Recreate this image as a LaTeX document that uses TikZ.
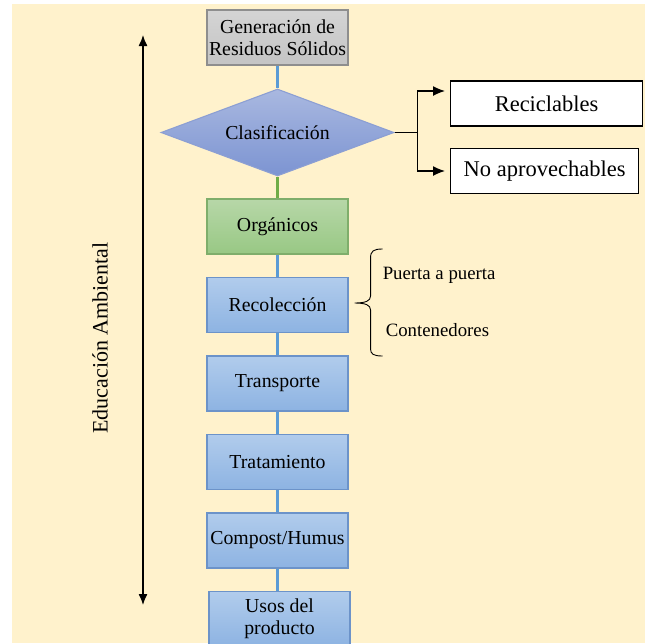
\documentclass[tikz,border=0pt]{standalone}
\usepackage{fontspec}
\setmainfont{Liberation Serif}
\usetikzlibrary{shapes,arrows.meta,positioning}

\definecolor{fondo}{HTML}{FFF2CC}
\definecolor{grisarriba}{HTML}{D4D4D4}
\definecolor{grisabajo}{HTML}{C4C4C4}
\definecolor{bordegris}{HTML}{8E8E8E}
\definecolor{romboarriba}{HTML}{A9B8E0}
\definecolor{romboabajo}{HTML}{7C94D2}
\definecolor{borderombo}{HTML}{8C9FD3}
\definecolor{verdearriba}{HTML}{B7D7A8}
\definecolor{verdeabajo}{HTML}{98C884}
\definecolor{bordeverde}{HTML}{7FAE6B}
\definecolor{azularriba}{HTML}{B1CCEC}
\definecolor{azulabajo}{HTML}{8DB3E2}
\definecolor{bordeazul}{HTML}{6C93C9}
\definecolor{lineaazul}{HTML}{5B9BD5}
\definecolor{lineaverde}{HTML}{70AD47}

\begin{document}
\begin{tikzpicture}[x=1pt,y=-1pt,node distance=78.5pt]
        \tikzstyle{paso}=[rectangle, line width=1.1pt, draw=bordeazul, top color=azularriba, bottom color=azulabajo, minimum width=141pt, minimum height=55pt, inner sep=0pt, align=center, font=\fontsize{19.8}{22}\selectfont]
        \tikzstyle{gris}=[paso, draw=bordegris, top color=grisarriba, bottom color=grisabajo]
        \tikzstyle{verde}=[paso, draw=bordeverde, top color=verdearriba, bottom color=verdeabajo]
        \tikzstyle{decision}=[diamond, line width=1.1pt, draw=borderombo, top color=romboarriba, bottom color=romboabajo, minimum width=233pt, minimum height=87pt, aspect=2.68, inner sep=0pt, font=\fontsize{19.8}{22}\selectfont]
        \tikzstyle{tipo}=[rectangle, line width=1.2pt, draw=black, fill=white, minimum height=45pt, anchor=west, font=\fontsize{22.5}{26}\selectfont]
        \tikzstyle{liga}=[line width=2.5pt, draw=lineaazul]
        \tikzstyle{flecha}=[line width=1.3pt, -{Latex[length=12pt,width=10pt]}]
        \tikzstyle{opcion}=[anchor=base west, inner sep=0pt, font=\fontsize{18.8}{22}\selectfont]

        \fill[fondo] (12,4) rectangle (645,643);
        \useasboundingbox (0,0) rectangle (645,643);

        % columna principal
        \node [gris] (gen) at (277.5,37.5) {Generación de\\Residuos Sólidos};
        \node [decision] (clas) [below of=gen, node distance=95pt] {Clasificación};
        \node [verde] (org) [below of=clas, node distance=94pt] {Orgánicos};
        \node [paso] (rec) [below of=org] {Recolección};
        \node [paso] (trans) [below of=rec] {Transporte};
        \node [paso] (trat) [below of=trans] {Tratamiento};
        \node [paso] (comp) [below of=trat] {Compost/Humus};
        \node [paso, xshift=2pt] (usos) [below of=comp] {Usos del\\producto};

        \draw[liga] (gen) -- (clas);
        \draw[liga, draw=lineaverde] (clas) -- (org);
        \foreach \a/\b in {org/rec, rec/trans, trans/trat, trat/comp}
          \draw[liga] (\a) -- (\b);
        \draw[liga] (comp.south) -- (comp.south |- usos.north);

        % tipos de residuo
        \node [tipo, minimum width=192pt] (recic) at (450,103.5) {Reciclables};
        \node [tipo, minimum width=188pt] (noap) at (450,171) {No aprovechables};
        \draw[flecha, shorten >=5pt] (clas.east) -- ++(23,0) |- ([yshift=12.5pt]recic.west);
        \draw[flecha, shorten >=5pt] (clas.east) -- ++(23,0) |- (noap.west);

        % llave de recoleccion
        \begin{scope}[shift={(rec.east)}]
          \draw[line width=0.9pt] (34,-56) .. controls (25,-56) and (22,-54) .. (22,-47) -- (22,-9)
            .. controls (22,-4) and (17,-2) .. (6,-2)
            .. controls (17,-2) and (22,0) .. (22,5) -- (22,44)
            .. controls (22,49) and (25,51) .. (34,51);
          \node [opcion] (puerta) at (34,-26) {Puerta a puerta};
          \node [opcion] (conten) at (37,31) {Contenedores};
        \end{scope}

        % educacion ambiental
        \coordinate (edarriba) at (143,35);
        \coordinate (edabajo) at (143,605);
        \draw[line width=1.3pt, {Latex[length=11pt,width=9pt]}-{Latex[length=11pt,width=9pt]}] (edarriba) -- (edabajo);
        \node [rotate=90, font=\fontsize{22}{26}\selectfont] (edu) at (100,338) {Educación Ambiental};
\end{tikzpicture}
\end{document}
